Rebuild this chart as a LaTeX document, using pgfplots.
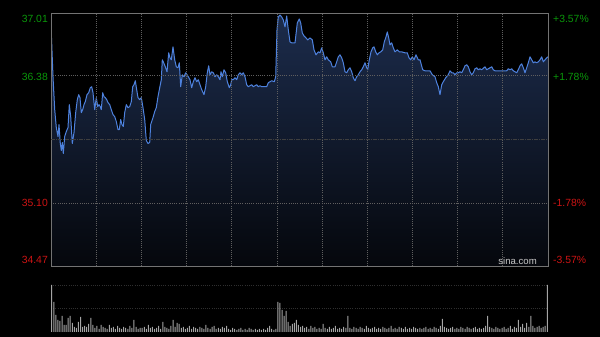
\documentclass[border=0pt]{standalone}
\usepackage{fontspec}
\setmainfont{Liberation Sans}
\usepackage{pgfplots}
\usepackage{pgfplotstable}
\pgfplotsset{compat=1.18}
\definecolor{pline}{RGB}{78,130,222}
\definecolor{ftop}{RGB}{28,44,76}
\definecolor{fbot}{RGB}{5,7,12}
\definecolor{gridc}{RGB}{95,95,95}
\definecolor{borderc}{RGB}{115,115,115}
\definecolor{upc}{RGB}{10,150,10}
\definecolor{dnc}{RGB}{205,20,20}
\definecolor{volc}{RGB}{165,165,165}

\pgfplotstableread{
x y
0 36.89
2 36.37
3.7 36.04
5.3 35.86
7 35.77
8 35.89
9.3 35.70
10.3 35.63
11.3 35.71
12.3 35.60
13.7 35.77
15.3 35.82
17 35.86
18.3 36.09
19.7 35.97
21.3 35.70
23 35.81
24.7 36.01
26.3 36.14
27.7 36.19
29 36.16
30.3 36.01
31.7 36.04
33 36.09
34.3 36.12
36 36.19
37.7 36.21
39.3 36.26
40.7 36.27
42 36.21
43.7 36.04
45.3 36.16
46.7 36.07
48 36.09
49.3 36.07
50.3 36.04
51.7 36.21
53 36.17
54.3 36.16
55.7 36.14
57 36.11
58.7 36.09
60.3 36.04
62 35.99
63.7 35.97
65.3 35.92
67 35.84
68.3 35.84
69.7 35.94
71 35.89
72.3 35.87
73.7 36.01
75.3 36.09
77 36.06
78.7 36.07
80.3 36.12
81.7 36.27
83 36.29
84.3 36.33
85.7 36.24
87 36.16
88.7 36.14
90.3 36.16
92 36.06
93.7 35.94
95.3 35.73
97 35.70
98.7 35.71
99.7 35.89
102 35.96
103.7 36.02
105.3 36.06
107 36.17
108.7 36.26
110.3 36.34
111.3 36.54
112.7 36.51
114.3 36.47
116 36.42
117.7 36.61
119 36.56
120.3 36.54
122 36.67
123.7 36.54
125.3 36.47
127 36.46
128.3 36.51
129.7 36.27
131.3 36.39
133 36.37
134.7 36.41
136 36.39
137.3 36.37
139 36.34
140.7 36.26
142.3 36.32
144 36.36
145.7 36.32
147.3 36.34
149 36.29
150.7 36.24
153 36.19
154.7 36.27
156.3 36.41
157.7 36.48
159 36.39
160.7 36.42
162.3 36.41
164 36.37
165.7 36.39
167.3 36.37
169 36.34
170 36.42
171.3 36.37
173 36.44
174.7 36.41
176.3 36.32
178.3 36.26
179.7 36.29
180.7 36.34
182.3 36.34
184 36.36
185.7 36.34
187.3 36.39
189 36.41
190.7 36.39
192.3 36.41
194 36.37
195.7 36.29
197.3 36.27
199 36.28
200.7 36.29
202.3 36.27
204 36.28
205.7 36.29
207.3 36.27
209 36.28
210.7 36.27
214 36.27
215.7 36.27
217.3 36.31
219 36.32
220.7 36.33
223.3 36.32
224.7 36.37
226 36.84
227.3 36.97
229 36.99
230.7 36.97
232.3 36.94
234 36.87
235.7 36.98
237.3 36.84
239 36.72
240.7 36.71
244 36.71
246.3 36.91
248.3 36.95
249.7 36.91
251.3 36.81
253 36.78
255 36.76
256.7 36.74
259 36.76
261.3 36.74
263 36.64
265 36.59
267.3 36.62
269 36.61
270.7 36.66
272.3 36.61
274 36.54
275.7 36.57
277.3 36.54
279.7 36.52
281.3 36.47
284 36.47
285.7 36.52
287.3 36.57
289 36.59
290.7 36.56
292.3 36.51
294 36.42
295.7 36.41
297.3 36.44
299 36.46
300.7 36.42
302.3 36.36
304 36.33
305.7 36.37
307.3 36.39
309 36.42
310.7 36.44
312.3 36.47
314 36.51
315.7 36.46
316.7 36.44
318.3 36.54
320 36.62
321.7 36.66
323 36.67
324.7 36.62
326.3 36.59
328 36.61
329.7 36.62
331.7 36.64
333.3 36.72
335 36.77
336.3 36.82
337.7 36.76
339 36.69
340.7 36.71
342.3 36.66
344 36.62
346.3 36.64
348.3 36.62
350.7 36.62
354 36.61
356.3 36.61
358 36.56
359.7 36.54
361.3 36.57
363 36.54
365 36.59
367.3 36.54
369 36.54
371.7 36.44
374 36.43
379 36.43
381.3 36.39
384 36.37
385.7 36.31
387.3 36.27
389 36.19
390.7 36.29
392.3 36.32
394.7 36.36
397.3 36.39
399 36.43
400.7 36.41
402.3 36.41
404 36.39
405.7 36.41
407.3 36.41
409 36.42
410.7 36.41
412.3 36.44
414 36.48
415.7 36.49
417.3 36.47
419 36.42
420.7 36.39
422.3 36.41
424 36.45
425.7 36.46
427.3 36.44
429 36.45
430.7 36.44
434 36.47
435.7 36.44
437.3 36.45
439 36.46
440.7 36.47
442.3 36.44
444 36.43
450.7 36.43
452.3 36.43
455.7 36.43
457.3 36.45
459 36.44
460.7 36.45
462.3 36.43
464 36.42
465.7 36.41
467.3 36.44
469 36.48
470.7 36.50
472.3 36.46
474 36.41
475.7 36.46
477.3 36.51
479 36.57
480.7 36.54
482.3 36.51
484 36.52
485.7 36.51
487.3 36.52
489 36.54
490.7 36.57
492.3 36.52
494 36.54
495.7 36.56
497 36.57
}\price

\begin{document}
\begin{tikzpicture}
\fill[black] (0pt,0pt) rectangle (600pt,337pt);
\path[use as bounding box] (0pt,0pt) rectangle (600pt,337pt);

\begin{axis}[
  at={(51pt,71pt)}, anchor=south west,
  scale only axis, width=497pt, height=253pt,
  xmin=0, xmax=497, ymin=34.47, ymax=37.01,
  xtick={45.18,90.36,135.55,180.73,225.91,271.09,316.27,361.45,406.64,451.82},
  ytick={35.10,36.38},
  extra y ticks={35.74},
  extra y tick labels={},
  extra y tick style={grid style={draw=gridc!120, line width=0.7pt, dash pattern=on 4pt off 1pt on 1pt off 1pt}},
  xticklabels={}, yticklabels={},
  major tick length=0pt,
  xmajorgrids, ymajorgrids,
  grid style={draw=gridc, line width=0.7pt, dash pattern=on 1pt off 1.2pt},
  axis line style={draw=borderc, line width=0.9pt},
  axis on top,
]
\addplot[draw=none, top color=ftop, bottom color=fbot] table[x=x,y=y] {\price} \closedcycle;
\addplot[pline, line width=1pt, line join=round] table[x=x,y=y] {\price};
\end{axis}

\begin{axis}[
  at={(51pt,5pt)}, anchor=south west,
  scale only axis, width=497pt, height=47pt,
  xmin=-0.35, xmax=241.35, ymin=0, ymax=47,
  xtick=\empty, ytick={23.5,47},
  yticklabels={},
  major tick length=0pt,
  ymajorgrids,
  grid style={draw=gridc!130, line width=0.7pt, dash pattern=on 1pt off 1.2pt},
  axis line style={draw=none},
]
\addplot[ybar, bar width=1pt, bar shift=0pt, fill=volc, draw=none] coordinates {
(0,47)(1,30)(2,17)(3,12)(4,11)(5,16)(6,7)(7,7)(8,14)(9,16)(10,9)(11,5)(12,4)(13,10)(14,15)(15,5)(16,6)(17,5)(18,8)(19,14)
(20,7)(21,4)(22,6)(23,3)(24,7)(25,5)(26,4)(27,3)(28,7)(29,4)(30,5)(31,3)(32,6)(33,4)(34,3)(35,5)(36,4)(37,3)(38,6)(39,4)
(40,12)(41,5)(42,3)(43,4)(44,4)(45,5)(46,3)(47,7)(48,4)(49,5)(50,3)(51,4)(52,6)(53,3)(54,10)(55,5)(56,4)(57,3)(58,6)(59,12)
(60,5)(61,9)(62,8)(63,4)(64,5)(65,3)(66,4)(67,6)(68,3)(69,5)(70,4)(71,3)(72,5)(73,4)(74,3)(75,7)(76,4)(77,3)(78,5)(79,6)
(80,3)(81,4)(82,3)(83,5)(84,4)(85,6)(86,3)(87,2)(88,4)(89,3)(90,2)(91,3)(92,4)(93,2)(94,3)(95,2)(96,4)(97,3)(98,2)(99,3)
(100,2)(101,3)(102,2)(103,3)(104,2)(105,4)(106,6)(107,3)(108,2)(109,3)(110,30)(111,29)(112,22)(113,16)(114,21)(115,10)(116,6)(117,8)(118,9)(119,12)
(120,7)(121,5)(122,6)(123,4)(124,5)(125,3)(126,6)(127,4)(128,5)(129,3)(130,4)(131,3)(132,8)(133,4)(134,3)(135,5)(136,3)(137,4)(138,6)(139,3)
(140,4)(141,3)(142,5)(143,4)(144,16)(145,4)(146,3)(147,5)(148,4)(149,3)(150,5)(151,4)(152,3)(153,6)(154,4)(155,3)(156,4)(157,5)(158,3)(159,4)
(160,3)(161,5)(162,4)(163,3)(164,4)(165,6)(166,3)(167,4)(168,3)(169,5)(170,4)(171,3)(172,5)(173,3)(174,4)(175,3)(176,5)(177,4)(178,3)(179,4)
(180,3)(181,4)(182,5)(183,3)(184,4)(185,3)(186,5)(187,4)(188,3)(189,6)(190,13)(191,5)(192,4)(193,3)(194,4)(195,5)(196,3)(197,4)(198,3)(199,5)
(200,4)(201,3)(202,5)(203,4)(204,3)(205,4)(206,5)(207,3)(208,4)(209,3)(210,4)(211,6)(212,16)(213,5)(214,4)(215,3)(216,5)(217,4)(218,3)(219,4)
(220,5)(221,3)(222,4)(223,6)(224,3)(225,5)(226,4)(227,12)(228,5)(229,8)(230,4)(231,9)(232,5)(233,16)(234,6)(235,4)(236,5)(237,6)(238,4)(239,5)
(240,6)(241,47)
};
\end{axis}

% price labels (left) and percentage labels (right)
\begin{scope}[every node/.style={font=\fontsize{10.4}{12}\selectfont, inner sep=0pt}]
\node[anchor=east, text=upc] at (48pt,318pt) {37.01};
\node[anchor=east, text=upc] at (48pt,260.5pt) {36.38};
\node[anchor=east, text=dnc] at (48pt,134pt) {35.10};
\node[anchor=east, text=dnc] at (48pt,77pt) {34.47};
\node[anchor=west, text=upc] at (553pt,318pt) {+3.57\%};
\node[anchor=west, text=upc] at (553pt,260.5pt) {+1.78\%};
\node[anchor=west, text=dnc] at (553pt,134pt) {-1.78\%};
\node[anchor=west, text=dnc] at (553pt,77pt) {-3.57\%};
\node[anchor=east, text={rgb,255:red,200;green,200;blue,200}, font=\fontsize{9.6}{11}\selectfont] at (537pt,76pt) {sina.com};
\end{scope}
\end{tikzpicture}
\end{document}
